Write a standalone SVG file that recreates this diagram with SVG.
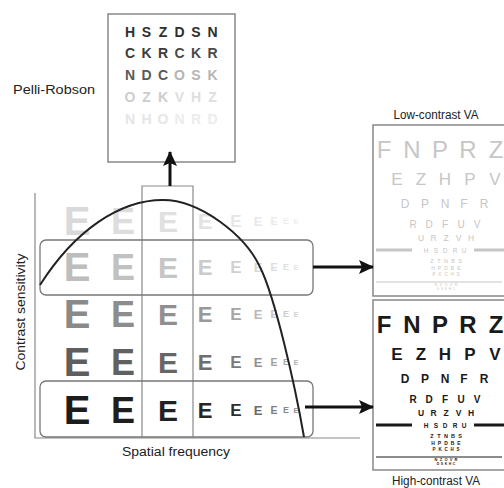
<svg xmlns="http://www.w3.org/2000/svg" xmlns:xlink="http://www.w3.org/1999/xlink" width="504" height="488" viewBox="0 0 504 488">
<style>
text{font-family:"Liberation Sans",Arial,sans-serif}
.lbl{font-size:12px;fill:#222}
.e{font-weight:bold;text-anchor:middle}
.pr{font-weight:bold;font-size:14px;text-anchor:middle}
.box{fill:#fff;stroke:#888;stroke-width:1.5}
.grid{fill:none;stroke:#8a8a8a;stroke-width:1.2}
.rr{fill:none;stroke:#777;stroke-width:1.3}
.arrow{fill:none;stroke:#111;stroke-width:3}
.ch{text-anchor:middle}
</style>
<defs>
<marker id="ah" markerUnits="userSpaceOnUse" markerWidth="16" markerHeight="14" refX="14" refY="7" orient="auto">
<path d="M0,0 L15,7 L0,14 L3,7 Z" fill="#111"/>
</marker>
<g id="chart">
<text class="ch" font-size="24" y="32.5" x="384 412 440 468 496">FNPRZ</text>
<text class="ch" font-size="17" y="60" x="397 421 445 470 495">EZHPV</text>
<text class="ch" font-size="12" y="83" x="405 425 445 464 484">DPNFR</text>
<text class="ch" font-size="10" y="103" x="413 429 445 461 477">RDFUV</text>
<text class="ch" font-size="8.5" y="116" x="421 433.5 446 458.5 471">URZVH</text>
<rect x="376" y="123.5" width="36" height="3"/>
<rect x="474" y="123.5" width="32" height="3"/>
<text class="ch" font-size="6.5" y="127.5" x="426 436 445 455 464">HSDRU</text>
<text class="ch" font-size="5.5" y="138" x="432 439 446 453 460">ZTNBS</text>
<text class="ch" font-size="5" y="145" x="433 439.5 446 452.5 459">HPDBE</text>
<text class="ch" font-size="4.5" y="151" x="434 440 446 452 458">PKCHS</text>
<rect x="376" y="156.5" width="126" height="1"/>
<text class="ch" font-size="4" y="161" x="436 441 446 451 456">NZOVR</text>
<text class="ch" font-size="3.5" y="165" x="438 442 446 450 454">DSKHC</text>
</g>
</defs>

<g id="pelli-robson">
<rect class="box" x="108" y="14" width="127" height="148"/>
<text class="pr" y="37" x="130 146.5 163 179.5 196 212.5" fill="#2e2e2e">HSZDSN</text>
<text class="pr" y="58" x="130 146.5 163 179.5 196 212.5"><tspan fill="#3c3c3c">CKR</tspan><tspan fill="#4a4a4a">CKR</tspan></text>
<text class="pr" y="80" x="130 146.5 163 179.5 196 212.5"><tspan fill="#5a5a5a">NDC</tspan><tspan fill="#b4b4b4">OSK</tspan></text>
<text class="pr" y="102" x="130 146.5 163 179.5 196 212.5"><tspan fill="#cdcdcd">OZK</tspan><tspan fill="#dedede">VHZ</tspan></text>
<text class="pr" y="124" x="130 146.5 163 179.5 196 212.5"><tspan fill="#e6e6e6">NHO</tspan><tspan fill="#ececec">NRD</tspan></text>
</g>
<text id="pelli-label" class="lbl" x="13" y="94" font-size="13" textLength="82" lengthAdjust="spacingAndGlyphs">Pelli-Robson</text>

<g id="csf-chart">
<path class="grid" d="M35,193 V438 H360"/>
<path class="grid" d="M142,437 V186 H193 V437"/>
<g id="row1">
<text class="e" y="235.3" x="77" font-size="40" fill="#d9d9d9">E</text>
<text class="e" y="233.9" x="123" font-size="36" fill="#dddddd">E</text>
<text class="e" y="231.7" x="168" font-size="30" fill="#e0e0e0">E</text>
<text class="e" y="228.9" x="205" font-size="22" fill="#e3e3e3">E</text>
<text class="e" y="227.1" x="236" font-size="17" fill="#e6e6e6">E</text>
<text class="e" y="225.7" x="258" font-size="13" fill="#e8e8e8">E</text>
<text class="e" y="224.8" x="274" font-size="10.5" fill="#eaeaea">E</text>
<text class="e" y="224.2" x="286" font-size="9" fill="#ececec">E</text>
<text class="e" y="223.7" x="296" font-size="7.5" fill="#eeeeee">E</text>
</g>
<g id="row2">
<text class="e" y="281.3" x="77" font-size="40" fill="#bdbdbd">E</text>
<text class="e" y="279.9" x="123" font-size="36" fill="#c1c1c1">E</text>
<text class="e" y="277.7" x="168" font-size="30" fill="#c5c5c5">E</text>
<text class="e" y="274.9" x="205" font-size="22" fill="#cbcbcb">E</text>
<text class="e" y="273.1" x="236" font-size="17" fill="#d1d1d1">E</text>
<text class="e" y="271.7" x="258" font-size="13" fill="#d8d8d8">E</text>
<text class="e" y="270.8" x="274" font-size="10.5" fill="#dcdcdc">E</text>
<text class="e" y="270.2" x="286" font-size="9" fill="#e0e0e0">E</text>
<text class="e" y="269.7" x="296" font-size="7.5" fill="#e4e4e4">E</text>
</g>
<g id="row3">
<text class="e" y="328.3" x="77" font-size="40" fill="#8a8a8a">E</text>
<text class="e" y="326.9" x="123" font-size="36" fill="#8d8d8d">E</text>
<text class="e" y="324.7" x="168" font-size="30" fill="#909090">E</text>
<text class="e" y="321.9" x="205" font-size="22" fill="#999999">E</text>
<text class="e" y="320.1" x="236" font-size="17" fill="#a6a6a6">E</text>
<text class="e" y="318.7" x="258" font-size="13" fill="#b8b8b8">E</text>
<text class="e" y="317.8" x="274" font-size="10.5" fill="#c4c4c4">E</text>
<text class="e" y="317.2" x="286" font-size="9" fill="#cccccc">E</text>
<text class="e" y="316.7" x="296" font-size="7.5" fill="#d4d4d4">E</text>
</g>
<g id="row4">
<text class="e" y="376.3" x="77" font-size="40" fill="#5e5e5e">E</text>
<text class="e" y="374.9" x="123" font-size="36" fill="#616161">E</text>
<text class="e" y="372.7" x="168" font-size="30" fill="#666666">E</text>
<text class="e" y="369.9" x="205" font-size="22" fill="#6e6e6e">E</text>
<text class="e" y="368.1" x="236" font-size="17" fill="#7a7a7a">E</text>
<text class="e" y="366.7" x="258" font-size="13" fill="#909090">E</text>
<text class="e" y="365.8" x="274" font-size="10.5" fill="#a0a0a0">E</text>
<text class="e" y="365.2" x="286" font-size="9" fill="#aaaaaa">E</text>
<text class="e" y="364.7" x="296" font-size="7.5" fill="#b4b4b4">E</text>
</g>
<g id="row5">
<text class="e" y="424.3" x="77" font-size="40" fill="#1c1c1c">E</text>
<text class="e" y="422.9" x="123" font-size="36" fill="#1e1e1e">E</text>
<text class="e" y="420.7" x="168" font-size="30" fill="#222222">E</text>
<text class="e" y="417.9" x="205" font-size="22" fill="#262626">E</text>
<text class="e" y="416.1" x="236" font-size="17" fill="#2e2e2e">E</text>
<text class="e" y="414.7" x="258" font-size="13" fill="#6a6a6a">E</text>
<text class="e" y="413.8" x="274" font-size="10.5" fill="#808080">E</text>
<text class="e" y="413.2" x="286" font-size="9" fill="#8a8a8a">E</text>
<text class="e" y="412.7" x="296" font-size="7.5" fill="#949494">E</text>
</g>
<rect id="low-row" class="rr" x="40" y="240" width="273" height="55" rx="6"/>
<rect id="high-row" class="rr" x="40" y="381" width="273" height="56" rx="6"/>
<path id="csf-curve" d="M40,285 C75,230 120,200 163,200 C200,200 245,235 260,267 C275,297 295,385 304,437" fill="none" stroke="#222" stroke-width="2"/>
</g>

<text id="y-label" class="lbl" transform="translate(25,312) rotate(-90)" text-anchor="middle" font-size="12" textLength="117" lengthAdjust="spacingAndGlyphs">Contrast sensitivity</text>
<text id="x-label" class="lbl" x="176" y="456" text-anchor="middle" font-size="13" textLength="108" lengthAdjust="spacingAndGlyphs">Spatial frequency</text>

<g id="low-contrast-va">
<rect class="box" x="373" y="125" width="140" height="171"/>
<use xlink:href="#chart" transform="translate(0,125)" fill="#c6c6c6"/>
<text class="lbl" x="436" y="119" text-anchor="middle" font-size="12" textLength="85" lengthAdjust="spacingAndGlyphs">Low-contrast VA</text>
</g>

<g id="high-contrast-va">
<rect class="box" x="373" y="300" width="140" height="170"/>
<use xlink:href="#chart" transform="translate(0,300)" fill="#1a1a1a" font-weight="bold"/>
<text class="lbl" x="436" y="485" text-anchor="middle" font-size="12" textLength="88" lengthAdjust="spacingAndGlyphs">High-contrast VA</text>
</g>

<g id="connectors">
<line class="arrow" x1="170" y1="186" x2="170" y2="152" marker-end="url(#ah)"/>
<line class="arrow" x1="313" y1="267" x2="373" y2="267" marker-end="url(#ah)"/>
<line class="arrow" x1="305" y1="407" x2="373" y2="407" marker-end="url(#ah)"/>
</g>
</svg>
